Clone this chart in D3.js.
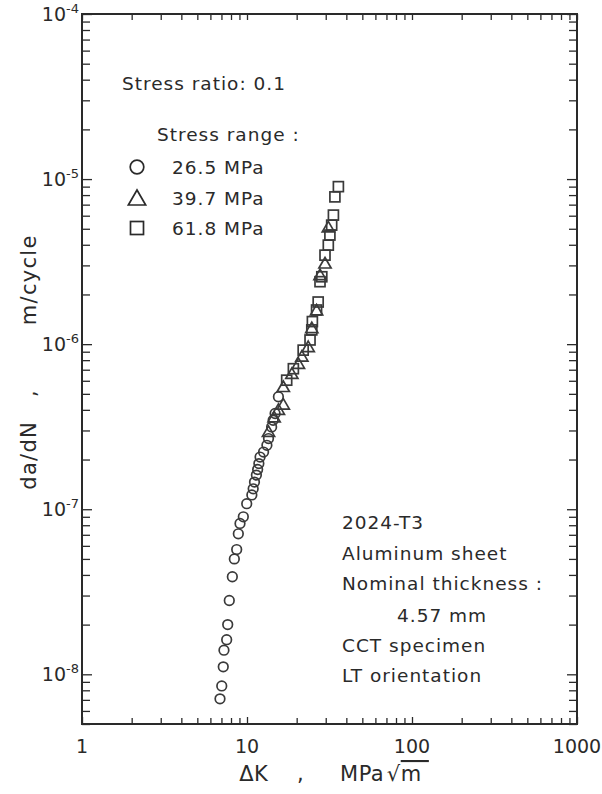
<!DOCTYPE html>
<html><head><meta charset="utf-8">
<script src="https://cdn.jsdelivr.net/npm/d3@7"></script>
<style>
html,body{margin:0;padding:0;background:#fff;}
svg text{font-family:"DejaVu Sans",sans-serif;fill:#2a2a2a;}
</style></head>
<body><svg id="c" width="602" height="794"></svg>
<script>
// Data: [ΔK (MPa√m), da/dN (m/cycle)]
const series26 = [[6.86,7.1e-9],[7.03,8.5e-9],[7.18,1.11e-8],[7.25,1.40e-8],[7.53,1.62e-8],[7.64,2.0e-8],[7.81,2.8e-8],[8.15,3.9e-8],[8.38,5.0e-8],[8.66,5.7e-8],[8.86,7.1e-8],[9.07,8.2e-8],[9.50,9.0e-8],[9.96,1.08e-7],[10.7,1.22e-7],[10.9,1.33e-7],[11.1,1.46e-7],[11.4,1.61e-7],[11.6,1.74e-7],[11.8,1.89e-7],[12.0,2.07e-7],[12.6,2.22e-7],[13.2,2.44e-7],[13.5,2.68e-7],[14.1,3.15e-7],[14.4,3.46e-7],[14.8,3.8e-7],[15.5,4.8e-7]];
const series39 = [[13.5,2.94e-7],[14.6,3.6e-7],[15.5,4.0e-7],[16.6,4.3e-7],[16.6,5.5e-7],[18.7,6.6e-7],[20.5,7.6e-7],[21.5,8.4e-7],[23.5,9.6e-7],[24.7,1.25e-6],[26.4,1.6e-6],[27.7,2.62e-6],[29.7,3.08e-6],[31.1,5.1e-6]];
const series62 = [[17.4,6.05e-7],[19.1,7.1e-7],[21.9,9.2e-7],[24.1,1.06e-6],[24.7,1.22e-6],[24.9,1.37e-6],[26.4,1.61e-6],[27.0,1.80e-6],[27.7,2.39e-6],[28.4,2.56e-6],[29.7,3.46e-6],[31.1,3.98e-6],[31.8,4.58e-6],[32.6,5.26e-6],[33.4,6.05e-6],[34.1,7.8e-6],[35.8,9.0e-6]];
const legendLabels = ["26.5 MPa","39.7 MPa","61.8 MPa"];
const xTickLabels = [1,10,100,1000];
const yTickExps = [-4,-5,-6,-7,-8];
const noteLines = ["2024-T3","Aluminum sheet","Nominal thickness :","4.57 mm","CCT specimen","LT orientation"];

const svg = d3.select("#c");
const L=82, R=577, T=14, B=724;
const x = d3.scaleLog().domain([1,1000]).range([L,R]);
const y = d3.scaleLog().domain([5e-9,1e-4]).range([B,T]);
const ink="#2a2a2a";
const FS=18.5, LS="1px";

const xMinor=[]; for(let d=0; d<3; d++) for(let m=1;m<=9;m++) xMinor.push(m*Math.pow(10,d)); xMinor.push(1000);
const yMinor=[]; for(let d=-9; d<-4; d++) for(let m=1;m<=9;m++){const v=m*Math.pow(10,d); if(v>=5e-9 && v<=1e-4) yMinor.push(v);} yMinor.push(1e-4);
const isMajor=v=>Math.abs(Math.log10(v)-Math.round(Math.log10(v)))<1e-6;

function styleAxis(g){ g.select(".domain").remove(); g.selectAll("line").attr("stroke",ink).attr("stroke-width",1.3); }

svg.append("g").attr("transform",`translate(0,${B})`).call(d3.axisBottom(x).tickValues(xMinor).tickSize(-6).tickFormat(""))
  .call(styleAxis).selectAll(".tick line").attr("y2",d=>isMajor(d)?-7:-6);
svg.append("g").attr("transform",`translate(0,${T})`).call(d3.axisTop(x).tickValues(xMinor).tickSize(-6).tickFormat(""))
  .call(styleAxis);
svg.append("g").attr("transform",`translate(${L},0)`).call(d3.axisLeft(y).tickValues(yMinor).tickSize(-8).tickFormat(""))
  .call(styleAxis).selectAll(".tick line").attr("x2",d=>isMajor(d)?10:8);
svg.append("g").attr("transform",`translate(${R},0)`).call(d3.axisRight(y).tickValues(yMinor).tickSize(-8).tickFormat(""))
  .call(styleAxis).selectAll(".tick line").attr("x2",d=>isMajor(d)?-10:-8);

svg.append("rect").attr("x",L).attr("y",T).attr("width",R-L).attr("height",B-T).attr("fill","none").attr("stroke",ink).attr("stroke-width",2);

svg.append("g").selectAll("text").data(xTickLabels).join("text")
  .attr("x",d=>x(d)).attr("y",B+29).attr("text-anchor","middle").attr("font-size",19).text(d=>d);
const yl = svg.append("g").selectAll("text").data(yTickExps).join("text")
  .attr("x",L-3).attr("y",d=>y(Math.pow(10,d))+7).attr("text-anchor","end").attr("font-size",19);
yl.append("tspan").text("10");
yl.append("tspan").attr("dy",-8).attr("font-size",13).text(d=>"-"+(-d));

svg.append("text").attr("x",334).attr("y",781).attr("text-anchor","middle").attr("font-size",21).attr("letter-spacing","0.5px")
  .html('ΔK&#160;&#160;&#160;&#160;,&#160;&#160;&#160;&#160;&#160;MPa&#8202;√<tspan style="text-decoration:overline">m&#160;</tspan>');
svg.append("text").attr("transform","translate(36,362) rotate(-90)").attr("text-anchor","middle").attr("font-size",21).attr("letter-spacing","1.3px")
  .attr("xml:space","preserve").text("da/dN   ,        m/cycle");

const g = svg.append("g").attr("fill","none").attr("stroke","#3a3a3a").attr("stroke-width",1.7);
g.selectAll(".c").data(series26).join("circle").attr("cx",d=>x(d[0])).attr("cy",d=>y(d[1])).attr("r",4.8);
const tri = d3.symbol().type(d3.symbolTriangle).size(64);
g.selectAll(".t").data(series39).join("path").attr("d",tri).attr("transform",d=>`translate(${x(d[0])},${y(d[1])+1})`);
g.selectAll(".s").data(series62).join("rect").attr("x",d=>x(d[0])-5).attr("y",d=>y(d[1])-5).attr("width",10).attr("height",10);

svg.append("text").attr("x",122).attr("y",90).attr("font-size",FS).attr("letter-spacing",LS).text("Stress ratio: 0.1");
svg.append("text").attr("x",157).attr("y",141).attr("font-size",FS).attr("letter-spacing",LS).text("Stress range :");
const lg = svg.append("g");
const rowsY=[167,198,228];
lg.append("circle").attr("cx",137).attr("cy",rowsY[0]).attr("r",6.8).attr("fill","none").attr("stroke",ink).attr("stroke-width",1.7);
lg.append("path").attr("d",d3.symbol().type(d3.symbolTriangle).size(130)).attr("transform",`translate(137,${rowsY[1]+2})`).attr("fill","none").attr("stroke",ink).attr("stroke-width",1.7);
lg.append("rect").attr("x",130.5).attr("y",rowsY[2]-6.5).attr("width",13).attr("height",13).attr("fill","none").attr("stroke",ink).attr("stroke-width",1.7);
lg.selectAll("text").data(legendLabels).join("text").attr("x",172).attr("y",(d,i)=>rowsY[i]+7).attr("font-size",FS).attr("letter-spacing",LS).text(d=>d);

const nx=[342,342,342,397,342,342];
svg.append("g").selectAll("text").data(noteLines).join("text")
  .attr("x",(d,i)=>nx[i]).attr("y",(d,i)=>[522,553,583,615,645,675][i]+7).attr("font-size",FS).attr("letter-spacing",LS).text(d=>d);
</script></body></html>
